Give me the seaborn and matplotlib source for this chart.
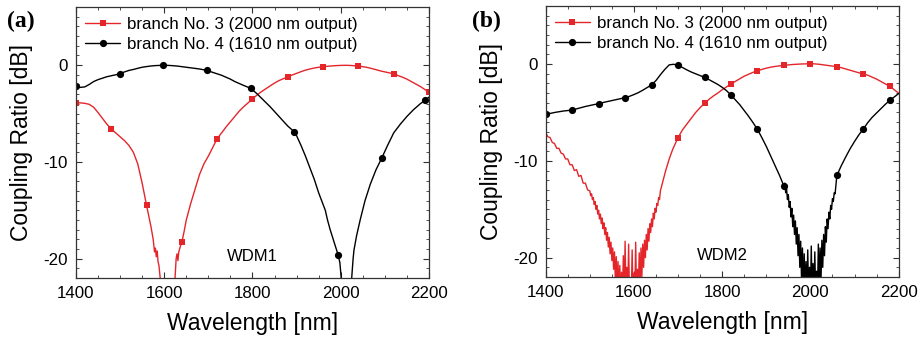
import matplotlib
matplotlib.use("Agg")
import matplotlib.pyplot as plt
from matplotlib.ticker import MultipleLocator
import pandas as pd
import seaborn as sns

sns.set_theme(style="ticks")
plt.rcParams["font.family"] = ["Liberation Sans", "DejaVu Sans"]
plt.rcParams["axes.unicode_minus"] = False
plt.rcParams["text.color"] = "black"
plt.rcParams["axes.labelcolor"] = "black"

RED = "#e4262b"
BLACK = "#000000"
FRAME = "#333333"

# ---------------- WDM1 : branch No. 3 (2000 nm output) ----------------
wdm1_b3_wl = [1400, 1410, 1420, 1430, 1440, 1450, 1460, 1470, 1480, 1490,
              1500, 1510, 1520, 1530, 1540, 1550, 1560, 1565, 1570, 1575,
              1578, 1580, 1582, 1584, 1586, 1588, 1590, 1592, 1596, 1620,
              1624, 1627, 1629, 1631, 1633, 1636, 1640, 1645, 1650, 1660,
              1670, 1680, 1690, 1700, 1710, 1720, 1730, 1740, 1750, 1760,
              1770, 1780, 1790, 1800] + list(range(1810, 2201, 10))
wdm1_b3_db = [-3.9, -3.9, -3.95, -4.05, -4.35, -4.9, -5.5, -6.1, -6.6, -7.0,
              -7.4, -7.8, -8.3, -9.0, -10.2, -12.2, -14.5, -15.6, -16.7, -18.0,
              -19.3, -18.9, -19.8, -19.2, -20.3, -20.7, -21.6, -22.6, -26, -26,
              -22.4, -20.0, -19.5, -20.2, -19.3, -18.8, -18.3, -17.2, -16.0, -14.3,
              -12.8, -11.3, -10.2, -9.4, -8.5, -7.6, -7.0, -6.4, -5.85, -5.3,
              -4.75, -4.3, -3.9, -3.5,
              -3.1, -2.75, -2.45, -2.15, -1.85, -1.6, -1.4, -1.22, -1.02, -0.85,
              -0.68, -0.52, -0.4, -0.3, -0.22, -0.17, -0.12, -0.08, -0.05, -0.03,
              -0.02, -0.03, -0.06, -0.1, -0.16, -0.24, -0.35, -0.47, -0.6, -0.7,
              -0.8, -0.9, -1.08, -1.25, -1.45, -1.7, -1.95, -2.2, -2.5, -2.8]
wdm1_b3_marks = list(range(1400, 2201, 80))

# ---------------- WDM1 : branch No. 4 (1610 nm output) ----------------
wdm1_b4_wl = [1400, 1410, 1420, 1430, 1440, 1450, 1460, 1470, 1480, 1490,
              1499, 1510, 1520, 1530, 1540, 1550, 1560, 1570, 1580, 1590,
              1598, 1610, 1620, 1630, 1640, 1650, 1660, 1670, 1680, 1697,
              1710, 1720, 1730, 1740, 1750, 1760, 1770, 1780, 1796, 1810,
              1820, 1830, 1840, 1850, 1860, 1870, 1880, 1895, 1900, 1910,
              1920, 1930, 1940, 1950, 1960, 1965, 1970, 1976, 1985, 1994,
              1998, 2002, 2006, 2020, 2024, 2028, 2030, 2036, 2044, 2055,
              2067, 2080, 2093, 2105, 2120, 2135, 2150, 2165, 2180, 2192,
              2200]
wdm1_b4_db = [-2.2, -2.3, -2.25, -2.0, -1.7, -1.5, -1.35, -1.2, -1.1, -1.0,
              -0.9, -0.7, -0.55, -0.45, -0.33, -0.22, -0.15, -0.09, -0.05, -0.03,
              -0.02, -0.03, -0.06, -0.1, -0.16, -0.22, -0.28, -0.34, -0.4, -0.55,
              -0.75, -0.9, -1.05, -1.25, -1.45, -1.7, -1.9, -2.1, -2.4, -2.95,
              -3.4, -3.85, -4.3, -4.8, -5.3, -5.8, -6.3, -6.9, -7.3, -8.3,
              -9.4, -10.6, -11.8, -13.2, -14.4, -15.0, -16.0, -17.0, -18.3, -19.6,
              -20.4, -22.5, -26, -26, -22.5, -20.0, -19.1, -17.6, -16.0, -14.0,
              -12.3, -10.8, -9.6, -8.4, -7.0, -6.1, -5.3, -4.6, -4.0, -3.6,
              -3.3]
wdm1_b4_marks = [1400, 1499, 1598, 1697, 1796, 1895, 1994, 2093, 2192]

# ---------------- WDM2 : branch No. 3 (2000 nm output) ----------------
wdm2_b3_wl = (list(range(1400, 1500, 5)) + list(range(1500, 1661, 2))
              + list(range(1664, 1700, 4)) + list(range(1700, 2201, 10)))
wdm2_b3_db = [-7.1, -7.5, -7.6, -8.1, -8.2, -8.7, -8.7, -9.2, -9.3, -9.8,
              -9.8, -10.4, -10.4, -11.0, -10.9, -11.6, -11.5, -12.3, -12.3, -13.0,
              # measured noise around the 1590 nm minimum
              -13.1, -13.6, -13.4, -14.0, -13.8, -14.5, -14.2, -15.0, -14.6, -15.5,
              -15.1, -16.0, -15.5, -16.5, -15.9, -17.0, -16.4, -17.6, -16.9, -18.2,
              -17.4, -18.9, -17.9, -19.6, -18.4, -20.3, -19.0, -21.2, -19.4, -22.5,
              -19.9, -23.5, -20.4, -24.0, -20.8, -24.0, -21.5, -24.0, -19.8, -24.0,
              -18.3, -24.0, -21.0, -24.0, -18.6, -24.0, -22.4, -24.0, -19.2, -24.0,
              -21.6, -24.0, -18.4, -24.0, -21.2, -23.5, -19.5, -23.0, -19.0, -22.0,
              -18.6, -21.0, -18.2, -20.0, -17.6, -19.2, -17.0, -18.3, -16.5, -17.4,
              -16.0, -16.8, -15.4, -16.0, -14.9, -15.3, -14.4, -14.6, -13.8, -14.0,
              -13.1,
              -12.4, -11.7, -11.0, -10.4, -9.8, -9.3, -8.8, -8.4, -8.0,
              -7.6, -6.8, -6.2, -5.6, -5.0, -4.5, -4.05, -3.65, -3.3, -3.0,
              -2.65, -2.35, -2.05, -1.78, -1.5, -1.25, -1.05, -0.85, -0.7, -0.55,
              -0.42, -0.32, -0.24, -0.18, -0.13, -0.08, -0.04, -0.01, 0.01, 0.03,
              0.04, 0.02, -0.02, -0.08, -0.14, -0.2, -0.27, -0.37, -0.5, -0.63,
              -0.77, -0.9, -1.0, -1.15, -1.35, -1.55, -1.8, -2.05, -2.3, -2.65,
              -3.0]
wdm2_b3_marks = list(range(1700, 2201, 60))

# ---------------- WDM2 : branch No. 4 (1610 nm output) ----------------
wdm2_b4_wl = (list(range(1400, 1931, 10)) + list(range(1940, 2061, 2))
              + list(range(2070, 2201, 10)))
wdm2_b4_db = [-5.2, -5.1, -5.0, -4.92, -4.85, -4.8, -4.75, -4.62, -4.5, -4.38,
              -4.28, -4.18, -4.1, -3.97, -3.87, -3.76, -3.66, -3.56, -3.47, -3.33,
              -3.15, -2.95, -2.7, -2.42, -2.15, -1.7, -1.1, -0.55, -0.08, -0.02,
              -0.13, -0.35, -0.6, -0.82, -1.0, -1.17, -1.37, -1.6, -1.85, -2.1,
              -2.4, -2.75, -3.2, -3.7, -4.2, -4.8, -5.4, -6.05, -6.75, -7.6,
              -8.5, -9.5, -10.5, -11.5,
              # measured noise around the 2000 nm minimum
              -12.6, -12.3, -13.3, -12.9, -14.0, -13.5, -14.8, -14.2, -15.8, -14.9,
              -16.8, -15.6, -17.6, -16.2, -18.6, -16.9, -19.8, -17.6, -21.0, -18.3,
              -22.5, -19.0, -24.0, -19.6, -24.0, -20.4, -24.0, -19.2, -24.0, -21.0,
              -24.0, -18.8, -24.0, -20.6, -24.0, -19.4, -24.0, -21.4, -24.0, -18.6,
              -23.5, -19.0, -22.5, -18.2, -21.0, -17.6, -19.8, -16.8, -18.4, -16.0,
              -17.0, -15.3, -16.0, -14.6, -15.0, -13.9, -14.2, -13.3, -13.4, -12.4,
              -11.5,
              -10.5, -9.6, -8.75, -8.0, -7.3, -6.7, -6.05, -5.5, -5.05, -4.6,
              -4.15, -3.75, -3.4, -3.05]
wdm2_b4_marks = list(range(1400, 2201, 60))

LABEL_B3 = "branch No. 3 (2000 nm output)"
LABEL_B4 = "branch No. 4 (1610 nm output)"


def mark_index(wl, marks):
    wanted = set(marks)
    return [i for i, w in enumerate(wl) if w in wanted]


def draw_panel(ax, b3_wl, b3_db, b3_marks, b4_wl, b4_db, b4_marks, name):
    d3 = pd.DataFrame({"wl": b3_wl, "db": b3_db})
    d4 = pd.DataFrame({"wl": b4_wl, "db": b4_db})
    sns.lineplot(data=d3, x="wl", y="db", ax=ax, color=RED, lw=1.0,
                 marker="s", markersize=5.0, markeredgewidth=0,
                 markevery=mark_index(b3_wl, b3_marks),
                 estimator=None, sort=False, label=LABEL_B3)
    sns.lineplot(data=d4, x="wl", y="db", ax=ax, color=BLACK, lw=1.0,
                 marker="o", markersize=5.2, markeredgewidth=0,
                 markevery=mark_index(b4_wl, b4_marks),
                 estimator=None, sort=False, label=LABEL_B4)

    ax.set_xlim(1400, 2200)
    ax.set_ylim(-22, 6)
    ax.xaxis.set_major_locator(MultipleLocator(200))
    ax.xaxis.set_minor_locator(MultipleLocator(50))
    ax.yaxis.set_major_locator(MultipleLocator(10))
    ax.yaxis.set_minor_locator(MultipleLocator(1))
    ax.tick_params(which="both", direction="in", top=True, right=True,
                   color=FRAME)
    ax.tick_params(which="major", length=4, width=0.8, labelsize=12.2,
                   pad=6, labelcolor="black")
    ax.tick_params(which="minor", length=2.3, width=0.6)
    for s in ax.spines.values():
        s.set_color(FRAME)
        s.set_linewidth(0.9)

    ax.set_xlabel("Wavelength [nm]", fontsize=16.5, labelpad=8, color="black")
    ax.set_ylabel("Coupling Ratio [dB]", fontsize=16.5, labelpad=7,
                  color="black")
    ax.text(1800, -19.8, name, ha="center", va="center", fontsize=12)

    ax.legend(loc="upper left", bbox_to_anchor=(0.025, 0.962),
              frameon=False, fontsize=12.2, handlelength=2.1,
              handletextpad=0.4, borderaxespad=0, borderpad=0,
              labelspacing=0.3, numpoints=1)


fig = plt.figure(figsize=(9.23, 3.42), dpi=100)
ax_a = fig.add_axes([0.0823, 0.187, 0.3825, 0.7924])
ax_b = fig.add_axes([0.5912, 0.190, 0.3824, 0.7924])

draw_panel(ax_a, wdm1_b3_wl, wdm1_b3_db, wdm1_b3_marks,
           wdm1_b4_wl, wdm1_b4_db, wdm1_b4_marks, "WDM1")
draw_panel(ax_b, wdm2_b3_wl, wdm2_b3_db, wdm2_b3_marks,
           wdm2_b4_wl, wdm2_b4_db, wdm2_b4_marks, "WDM2")

fig.text(0.008, 0.968, "(a)", family=["Liberation Serif"], weight="bold",
         fontsize=17, va="top", ha="left")
fig.text(0.511, 0.968, "(b)", family=["Liberation Serif"], weight="bold",
         fontsize=17, va="top", ha="left")

fig.savefig("out.png", dpi=100)
